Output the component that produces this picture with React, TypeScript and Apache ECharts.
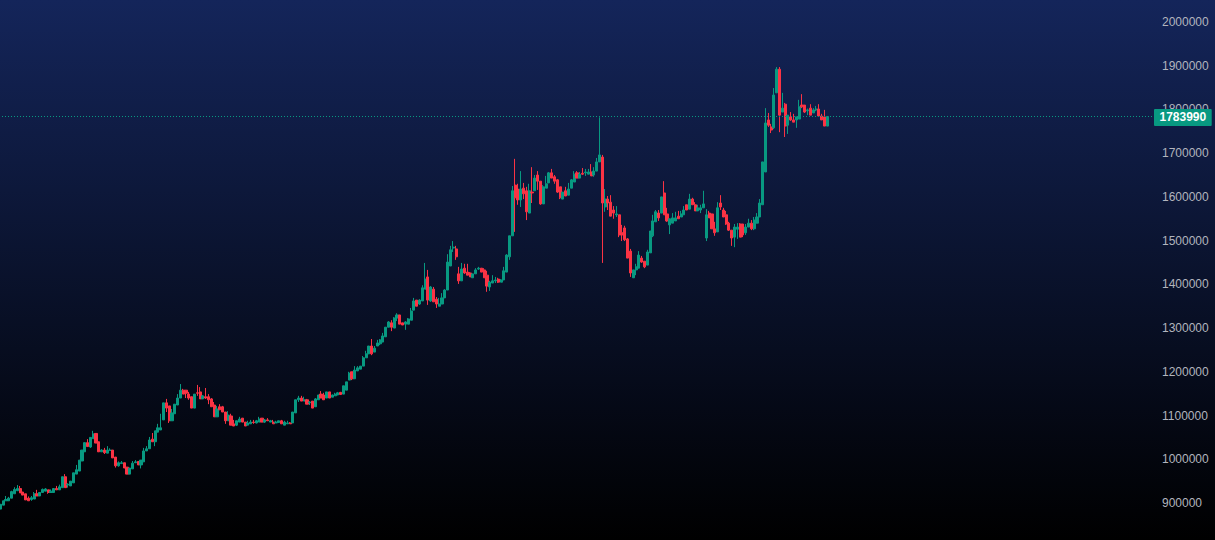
import React, { useEffect, useRef } from 'react';
import * as echarts from 'echarts';

const UP = '#089981';
const DOWN = '#fb3344';
const LAST_PRICE = 1783990;
const SLOTS = 411; // bars + empty room up to the price scale

// open, close, low, high in thousands
const candles: number[][] = [
  [886,897,886,897],[895,905,895,905],[905,908,905,916],[905,911,905,914],[911,926,911,928],[921,931,921,936],[928,933,928,941],[933,923,923,939],
  [925,918,918,925],[921,907,907,921],[911,905,905,915],[908,912,905,916],[909,921,909,925],[921,916,916,930],[916,924,916,924],[924,931,924,933],
  [927,932,927,934],[930,924,921,930],[924,927,924,931],[924,933,924,933],[933,930,930,939],[930,937,930,942],[935,960,935,960],[960,935,935,966],
  [941,943,935,945],[939,950,939,950],[946,969,946,969],[966,976,966,987],[973,998,973,998],[996,1021,996,1021],[1017,1038,1017,1038],[1038,1029,1029,1046],
  [1028,1050,1026,1050],[1047,1058,1047,1065],[1059,1037,1037,1059],[1040,1017,1017,1040],[1017,1021,1017,1023],[1021,1015,1012,1026],[1014,1021,1014,1030],[1020,1021,1020,1025],
  [1021,1003,1003,1021],[1005,985,981,1005],[985,992,983,995],[990,992,990,996],[992,980,980,992],[982,966,966,982],[966,980,966,980],[978,991,978,996],
  [992,994,992,998],[995,987,987,995],[987,998,979,998],[994,1019,994,1026],[1019,1024,1019,1030],[1024,1044,1024,1051],[1046,1040,1040,1060],[1040,1065,1030,1065],
  [1062,1072,1062,1081],[1067,1072,1067,1104],[1090,1129,1090,1129],[1129,1117,1108,1138],[1122,1088,1083,1122],[1088,1106,1088,1115],[1104,1126,1104,1126],[1124,1140,1124,1149],
  [1140,1158,1140,1172],[1158,1149,1149,1161],[1158,1151,1140,1158],[1149,1140,1136,1154],[1143,1117,1117,1143],[1117,1149,1117,1149],[1152,1151,1145,1170],[1154,1138,1138,1165],
  [1138,1145,1138,1147],[1143,1140,1138,1163],[1143,1136,1126,1149],[1138,1120,1120,1140],[1124,1097,1097,1131],[1097,1115,1097,1122],[1120,1113,1113,1126],[1120,1108,1108,1122],
  [1108,1088,1081,1108],[1088,1101,1088,1110],[1099,1078,1078,1104],[1081,1076,1076,1090],[1078,1088,1076,1088],[1085,1092,1085,1097],[1094,1085,1085,1094],[1085,1076,1076,1085],
  [1078,1083,1078,1088],[1081,1085,1081,1090],[1085,1084,1081,1090],[1083,1088,1082,1090],[1085,1092,1085,1097],[1094,1085,1085,1094],[1085,1090,1083,1092],[1090,1088,1088,1094],
  [1085,1088,1085,1090],[1085,1081,1081,1090],[1083,1085,1083,1088],[1084,1088,1084,1088],[1088,1081,1081,1090],[1078,1085,1078,1088],[1081,1083,1081,1088],[1083,1081,1081,1085],
  [1083,1108,1083,1108],[1106,1136,1106,1136],[1136,1140,1131,1145],[1140,1133,1133,1145],[1133,1136,1133,1143],[1136,1126,1126,1138],[1129,1131,1124,1133],[1133,1117,1117,1133],
  [1120,1138,1120,1140],[1136,1147,1136,1147],[1149,1140,1140,1156],[1147,1136,1136,1152],[1140,1154,1140,1154],[1154,1140,1140,1154],[1142,1147,1142,1148],[1145,1149,1145,1152],
  [1147,1152,1147,1154],[1153,1148,1148,1154],[1149,1168,1149,1168],[1158,1177,1158,1177],[1181,1197,1181,1200],[1200,1184,1181,1200],[1184,1204,1184,1213],[1202,1209,1202,1213],
  [1206,1213,1206,1213],[1213,1232,1213,1236],[1232,1241,1232,1248],[1241,1259,1241,1259],[1259,1241,1238,1275],[1245,1254,1245,1259],[1259,1266,1259,1273],[1264,1273,1261,1275],
  [1268,1282,1268,1289],[1280,1302,1280,1302],[1302,1314,1302,1316],[1312,1302,1293,1318],[1300,1323,1300,1325],[1323,1330,1316,1334],[1330,1309,1309,1330],[1312,1307,1307,1312],
  [1309,1314,1296,1316],[1309,1321,1309,1323],[1318,1339,1318,1346],[1341,1362,1341,1369],[1364,1350,1350,1364],[1355,1364,1353,1366],[1362,1392,1362,1398],[1389,1412,1389,1449],
  [1417,1364,1353,1433],[1362,1394,1360,1396],[1389,1360,1360,1394],[1366,1355,1346,1371],[1350,1355,1350,1369],[1355,1369,1355,1380],[1369,1387,1369,1389],[1387,1451,1387,1469],
  [1442,1479,1442,1488],[1483,1485,1474,1499],[1481,1463,1456,1488],[1424,1408,1401,1440],[1408,1435,1408,1449],[1437,1426,1424,1447],[1428,1421,1421,1447],[1426,1417,1417,1428],
  [1415,1424,1415,1424],[1424,1433,1424,1437],[1435,1437,1433,1440],[1437,1428,1428,1437],[1433,1415,1415,1437],[1421,1396,1383,1431],[1394,1405,1385,1408],[1403,1408,1403,1421],
  [1408,1410,1403,1417],[1412,1405,1403,1415],[1405,1410,1405,1412],[1410,1431,1410,1440],[1428,1467,1428,1469],[1463,1511,1456,1511],[1511,1614,1511,1625],[1627,1598,1520,1687],
  [1618,1593,1582,1630],[1593,1618,1577,1659],[1620,1607,1595,1632],[1614,1566,1547,1623],[1563,1614,1563,1630],[1611,1609,1586,1668],[1614,1643,1614,1650],[1650,1636,1616,1659],
  [1636,1584,1582,1636],[1584,1623,1584,1627],[1620,1630,1620,1648],[1632,1655,1632,1657],[1655,1643,1643,1664],[1646,1636,1630,1650],[1639,1611,1609,1641],[1623,1598,1595,1623],
  [1595,1611,1595,1611],[1614,1602,1602,1623],[1604,1618,1604,1632],[1620,1639,1620,1641],[1634,1652,1634,1659],[1655,1643,1643,1659],[1643,1652,1643,1657],[1654,1652,1650,1666],
  [1655,1657,1648,1664],[1652,1657,1652,1664],[1657,1648,1648,1675],[1650,1659,1646,1668],[1659,1680,1659,1689],[1680,1696,1680,1782],[1691,1586,1449,1696],[1577,1595,1566,1618],
  [1595,1586,1570,1602],[1588,1556,1556,1604],[1570,1563,1550,1579],[1559,1561,1554,1579],[1559,1513,1508,1559],[1518,1513,1499,1536],[1529,1502,1499,1534],[1504,1460,1460,1506],
  [1476,1426,1417,1481],[1415,1433,1415,1433],[1433,1440,1421,1447],[1437,1467,1437,1476],[1460,1451,1449,1465],[1453,1440,1437,1453],[1444,1474,1444,1479],[1472,1522,1472,1522],
  [1511,1545,1508,1559],[1543,1566,1543,1570],[1563,1552,1545,1570],[1563,1600,1563,1600],[1609,1559,1559,1636],[1561,1545,1543,1575],[1536,1550,1515,1550],[1540,1552,1540,1563],
  [1545,1552,1545,1566],[1556,1550,1550,1568],[1554,1561,1554,1568],[1559,1570,1559,1579],[1582,1570,1570,1582],[1572,1595,1572,1607],[1595,1582,1582,1598],[1582,1568,1568,1588],
  [1568,1575,1568,1582],[1570,1575,1563,1582],[1575,1584,1575,1614],[1506,1559,1499,1572],[1563,1552,1552,1568],[1561,1527,1527,1561],[1527,1518,1511,1543],[1520,1575,1520,1588],
  [1586,1577,1570,1604],[1570,1554,1554,1575],[1559,1538,1536,1568],[1540,1524,1522,1543],[1524,1506,1488,1524],[1508,1531,1485,1538],[1526,1531,1504,1540],[1538,1508,1508,1540],
  [1538,1513,1508,1538],[1518,1531,1513,1538],[1531,1540,1531,1550],[1540,1527,1524,1547],[1527,1547,1524,1554],[1540,1554,1540,1563],[1554,1586,1554,1595],[1582,1680,1582,1680],
  [1657,1769,1657,1803],[1776,1764,1760,1792],[1760,1753,1746,1767],[1758,1833,1755,1849],[1838,1892,1838,1897],[1892,1787,1748,1897],[1794,1803,1794,1838],[1812,1762,1737,1815],
  [1764,1787,1744,1787],[1783,1776,1774,1794],[1776,1771,1771,1790],[1776,1783,1758,1783],[1778,1806,1778,1822],[1810,1806,1803,1835],[1810,1794,1792,1810],[1797,1799,1787,1802],
  [1803,1787,1787,1812],[1792,1799,1792,1803],[1799,1801,1796,1808],[1801,1785,1785,1812],[1785,1776,1776,1790],[1783,1762,1762,1799],[1762,1784,1762,1784],
];

const slots = Array.from({ length: SLOTS }, (_, i) => String(i));

export default function App() {
  const chartRef = useRef<HTMLDivElement>(null);

  useEffect(() => {
    if (!chartRef.current) return;
    const chart = echarts.init(chartRef.current, undefined, { renderer: 'svg' });

    chart.setOption({
      animation: false,
      backgroundColor: new echarts.graphic.LinearGradient(0, 0, 0, 1, [
        { offset: 0, color: '#14255a' },
        { offset: 1, color: '#000000' },
      ]),
      // 800000 falls just under the window, so the grid runs past the bottom edge
      grid: { left: -1, top: 22, width: 1156, height: 524.7, outerBoundsMode: 'none' },
      xAxis: { type: 'category', data: slots, show: false },
      yAxis: {
        type: 'value',
        position: 'right',
        min: 800000,
        max: 2000000,
        interval: 100000,
        axisLine: { show: false },
        axisTick: { show: false },
        splitLine: { show: false },
        axisLabel: {
          showMinLabel: false,
          formatter: (v: number) => String(v),
          color: '#b2b5be',
          fontFamily: 'Liberation Sans',
          fontSize: 12,
          margin: 7,
          padding: [2, 0, 0, 0],
        },
      },
      series: [
        {
          type: 'candlestick',
          silent: true,
          barWidth: 2.6,
          data: candles.map((c) => c.map((v) => v * 1000)),
          itemStyle: {
            color: UP,
            color0: DOWN,
            borderColor: UP,
            borderColor0: DOWN,
            borderWidth: 1,
          },
          markLine: {
            silent: true,
            symbol: 'none',
            data: [{ yAxis: LAST_PRICE }],
            lineStyle: { color: UP, type: [1, 2], width: 1 },
            label: {
              position: 'end',
              distance: 0,
              offset: [-1, 1],
              formatter: '1783990',
              color: '#ffffff',
              backgroundColor: UP,
              fontFamily: 'Liberation Sans',
              fontWeight: 'bold',
              fontSize: 12,
              padding: [3, 5.5, 2, 5.5],
              borderRadius: 1,
            },
          },
        },
      ],
    });

    return () => chart.dispose();
  }, []);

  return <div ref={chartRef} style={{ position: 'fixed', left: 0, top: 0, width: 1215, height: 540 }} />;
}
